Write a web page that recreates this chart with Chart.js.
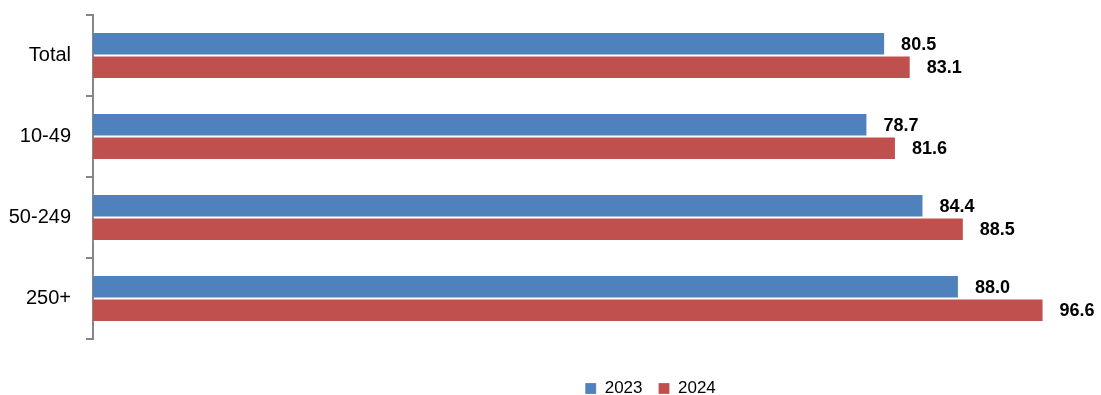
<!DOCTYPE html>
<html>
<head>
<meta charset="utf-8">
<script src="https://cdn.jsdelivr.net/npm/chart.js@4/dist/chart.umd.min.js"></script>
<style>
html,body{margin:0;padding:0;background:#fff;}
#wrap{width:1101px;height:395px;position:relative;}
</style>
</head>
<body>
<div id="wrap"><canvas id="c" width="1101" height="395"></canvas></div>
<script>
const categories = ['Total', '10-49', '50-249', '250+'];
const series2023 = [80.5, 78.7, 84.4, 88.0];
const series2024 = [83.1, 81.6, 88.5, 96.6];
const seriesNames = ['2023', '2024'];

const FONT = "'Liberation Sans', Arial, sans-serif";

const valueLabels = {
  id: 'valueLabels',
  afterDatasetsDraw(chart) {
    const ctx = chart.ctx;
    ctx.save();
    ctx.font = "bold 18px " + FONT;
    ctx.fillStyle = '#000';
    ctx.textAlign = 'left';
    ctx.textBaseline = 'middle';
    chart.data.datasets.forEach((ds, i) => {
      const meta = chart.getDatasetMeta(i);
      meta.data.forEach((bar, j) => {
        ctx.fillText(ds.data[j].toFixed(1), bar.x + 16, bar.y + 1);
      });
    });
    ctx.restore();
  }
};

const legendShift = {
  id: 'legendShift',
  afterLayout(chart) {
    const lg = chart.legend;
    if (!lg) return;
    lg.left += 112; lg.right += 112;
    lg.top += 25; lg.bottom += 25;
  }
};

new Chart(document.getElementById('c'), {
  type: 'bar',
  data: {
    labels: categories,
    datasets: [
      { label: seriesNames[0], data: series2023, backgroundColor: '#4F81BD', borderColor: 'rgba(255,255,255,0.2)', borderWidth: 1 },
      { label: seriesNames[1], data: series2024, backgroundColor: '#C0504D', borderColor: 'rgba(255,255,255,0.2)', borderWidth: 1 }
    ]
  },
  options: {
    indexAxis: 'y',
    responsive: false,
    animation: false,
    devicePixelRatio: 1,
    layout: { padding: { top: 15, right: 24, bottom: 13, left: 0 } },
    datasets: { bar: { categoryPercentage: 0.58, barPercentage: 1.0 } },
    scales: {
      x: { display: false, min: 0, max: 100 },
      y: {
        afterFit(scale) { scale.width = 93; scale.paddingTop = 0; scale.paddingBottom = 0; },
        border: { display: true, color: '#868686', width: 2 },
        grid: { drawOnChartArea: false, color: '#868686', tickLength: 7, lineWidth: 2, offset: true },
        ticks: { color: '#000', padding: 15, font: { family: FONT, size: 20 } }
      }
    },
    plugins: {
      legend: {
        position: 'bottom',
        labels: {
          boxWidth: 11, boxHeight: 11, padding: 16, color: '#000',
          font: { family: FONT, size: 17 }
        }
      },
      tooltip: { enabled: false }
    }
  },
  plugins: [valueLabels, legendShift]
});
</script>
</body>
</html>
